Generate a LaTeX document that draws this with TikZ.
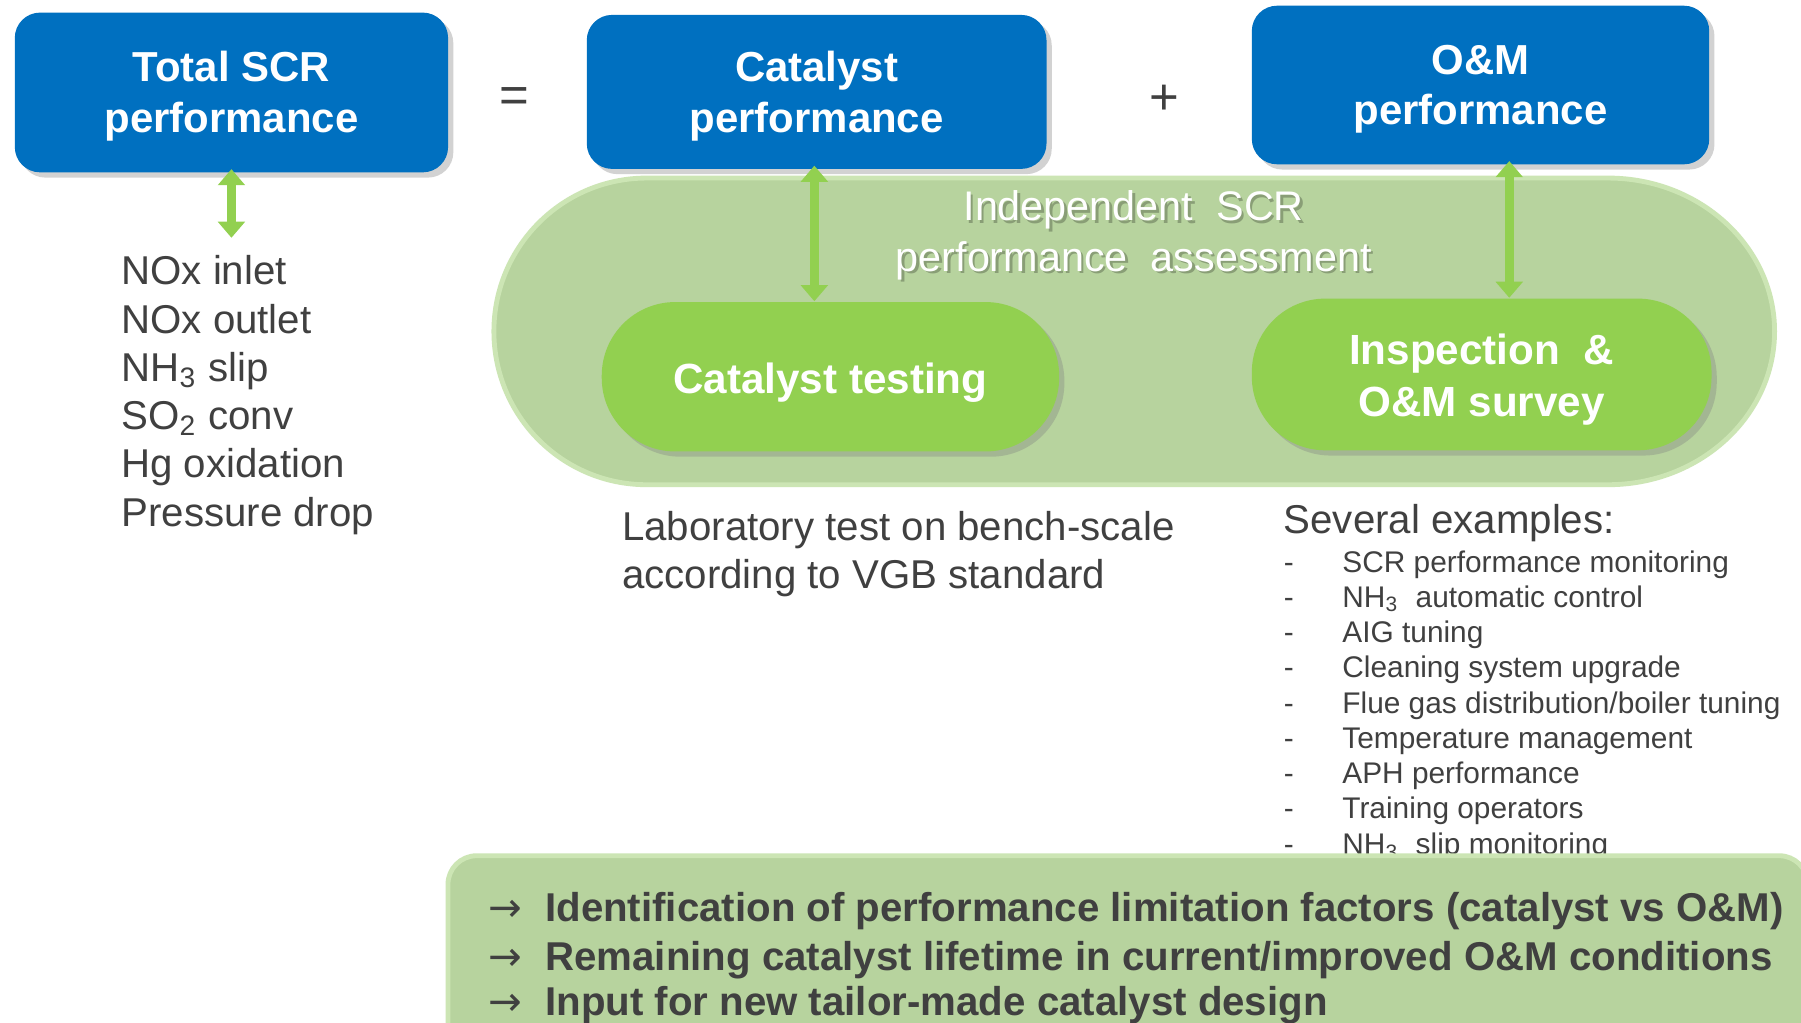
\documentclass[tikz,border=0pt]{standalone}
\usepackage{fontspec}
\setmainfont{Liberation Sans}
\newfontfamily\arrowfont{DejaVu Sans}
\usetikzlibrary{arrows.meta,shadows}
\definecolor{boxblue}{HTML}{0070C0}
\definecolor{leaf}{HTML}{92D050}
\definecolor{sage}{HTML}{B7D39E}
\definecolor{sageedge}{HTML}{CCE5B4}
\definecolor{ink}{HTML}{404040}
\newcommand\fsz[2]{\fontsize{#1pt}{#2pt}\selectfont}
\newcommand\lift[1]{\rule{0pt}{#1}}
\tikzset{
  bluebox/.style={fill=boxblue, rounded corners=0.22cm, text=white, align=center, inner sep=0pt,
    font=\bfseries\fsz{10.38}{12.52},
    drop shadow={shadow xshift=1.3pt, shadow yshift=-1.3pt, opacity=0.35}},
  greenpill/.style={fill=leaf, rounded corners=0.64cm, text=white, align=center, inner sep=0pt,
    font=\bfseries\fsz{10.45}{12.8},
    drop shadow={shadow xshift=1.3pt, shadow yshift=-1.3pt, opacity=0.35}},
  dblarrow/.style={draw=leaf, line width=0.08cm,
    {Triangle[width=0.23cm,length=0.14cm]}-{Triangle[width=0.23cm,length=0.14cm]}},
  sign/.style={text=ink, font=\fsz{12.6}{14}, inner sep=0pt},
  assesstext/.style={text=white, align=center, font=\fsz{10.24}{12.52}, inner sep=0pt},
  assessshadow/.style={text=black, opacity=0.25, align=center, font=\fsz{10.24}{12.52}, inner sep=0pt},
  listtext/.style={text=ink, font=\fsz{9.96}{11.95}, inner sep=0pt, anchor=base west},
  smalltext/.style={text=ink, font=\fsz{7.39}{8.75}, inner sep=0pt, anchor=base west},
  bottomtext/.style={text=ink, font=\bfseries\fsz{9.96}{11.66}, inner sep=0pt, anchor=base west},
}
\newcommand\dashitem[1]{\makebox[0.51cm][l]{-}#1}
\newcommand\arritem[1]{\makebox[0.49cm][l]{\mdseries\arrowfont →}#1}
\begin{document}
\begin{tikzpicture}[x=0.01cm,y=-0.01cm]
\useasboundingbox (0,0) rectangle (1568,890);
\clip (0,0) rectangle (1568,890);
\fill[white] (0,0) rectangle (1568,890);

% big assessment stadium
\fill[sage, draw=sageedge, line width=1.2pt]
  (563,155) -- (1400,155)
  arc[start angle=-90, end angle=90, x radius=145, y radius=133.5]
  -- (563,422)
  arc[start angle=90, end angle=270, x radius=133, y radius=133.5] -- cycle;

% top boxes
\node[bluebox, minimum width=3.77cm, minimum height=1.39cm] (total) at (201.5,80.5) {\lift{9.3pt}Total SCR\\performance};
\node[bluebox, minimum width=4.0cm, minimum height=1.34cm] (catperf) at (711,80) {\lift{9.6pt}Catalyst\\performance};
\node[bluebox, minimum width=3.98cm, minimum height=1.38cm] (omperf) at (1289,74) {\lift{9.3pt}O\&M\\performance};
\node[sign] (eq) at (448,87) {=};
\node[sign] (plus) at (1014,87) {+};

% assessment title
\node[assessshadow] at (989,207) {Independent\ \ SCR\\performance\ \ assessment};
\node[assesstext] (assess) at (987,205) {Independent\ \ SCR\\performance\ \ assessment};

% pills
\node[greenpill, minimum width=3.98cm, minimum height=1.30cm] (cattest) at (723,328) {\lift{10.6pt}Catalyst testing};
\node[greenpill, minimum width=4.0cm, minimum height=1.32cm] (insp) at (1290,326) {\lift{10.1pt}Inspection\ \ \&\\O\&M survey};

% arrows
\coordinate (listtop) at (201.5,207);
\draw[dblarrow] ([yshift=1pt]total.south) -- (listtop);
\draw[dblarrow] ([xshift=-0.02cm,yshift=1pt]catperf.south) -- ([xshift=-0.02cm]catperf.south |- cattest.north);
\draw[dblarrow] ([xshift=0.25cm,yshift=1pt]omperf.south) -- ([xshift=0.25cm]omperf.south |- insp.north);

% left list
\node[listtext] (p1) at (105,248) {NOx inlet};
\node[listtext] (p2) at (105,290) {NOx outlet};
\node[listtext] (p3) at (105,332) {NH\textsubscript{3} slip};
\node[listtext] (p4) at (105,374) {SO\textsubscript{2} conv};
\node[listtext] (p5) at (105,416) {Hg oxidation};
\node[listtext] (p6) at (105,458) {Pressure drop};

% lab text
\node[listtext] (lab1) at (541,470.5) {Laboratory test on bench-scale};
\node[listtext] (lab2) at (541,512.5) {according to VGB standard};

% examples
\node[listtext] (ex) at (1117,464.5) {Several examples:};
\node[smalltext] (e1) at (1117,498) {\dashitem{SCR performance monitoring}};
\node[smalltext] (e2) at (1117,528.5) {\dashitem{NH\textsubscript{3}\ \ automatic control}};
\node[smalltext] (e3) at (1117,559.5) {\dashitem{AIG tuning}};
\node[smalltext] (e4) at (1117,590) {\dashitem{Cleaning system upgrade}};
\node[smalltext] (e5) at (1117,621) {\dashitem{Flue gas distribution/boiler tuning}};
\node[smalltext] (e6) at (1117,651.5) {\dashitem{Temperature management}};
\node[smalltext] (e7) at (1117,682) {\dashitem{APH performance}};
\node[smalltext] (e8) at (1117,713) {\dashitem{Training operators}};
\node[smalltext] (e9) at (1117,744) {\dashitem{NH\textsubscript{3}\ \ slip monitoring}};

% bottom conclusion box
\fill[sage, draw=sageedge, line width=1.2pt, rounded corners=0.25cm] (390,745) rectangle (1574,920);
\node[bottomtext] (c1) at (425,802.5) {\arritem{Identification of performance limitation factors (catalyst vs O\&M)}};
\node[bottomtext] (c2) at (425,844.5) {\arritem{Remaining catalyst lifetime in current/improved O\&M conditions}};
\node[bottomtext] (c3) at (425,884.5) {\arritem{Input for new tailor-made catalyst design}};
\end{tikzpicture}
\end{document}
